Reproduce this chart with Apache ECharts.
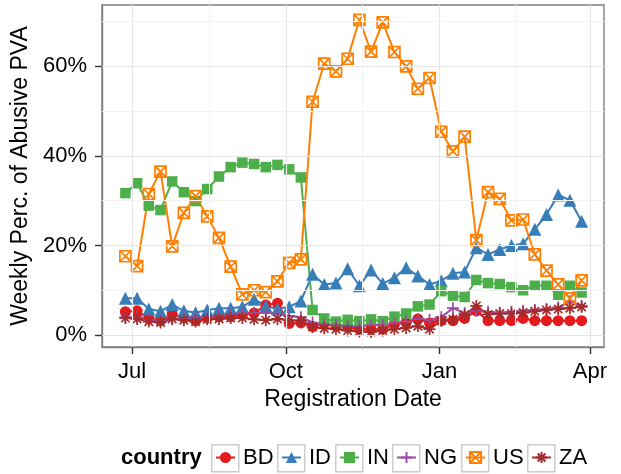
<!DOCTYPE html>
<html><head><meta charset="utf-8">
<script src="https://cdn.jsdelivr.net/npm/echarts@6/dist/echarts.min.js"></script>
<style>html,body{margin:0;padding:0;background:#fff}#c{width:621px;height:474px}</style>
</head><body><div id="c"></div>
<script>
const weeks = ['2013-06-27','2013-07-04','2013-07-11','2013-07-18','2013-07-25','2013-08-01','2013-08-08','2013-08-15','2013-08-22','2013-08-29',
'2013-09-05','2013-09-12','2013-09-19','2013-09-26','2013-10-03','2013-10-10','2013-10-17','2013-10-24','2013-10-31','2013-11-07',
'2013-11-14','2013-11-21','2013-11-28','2013-12-05','2013-12-12','2013-12-19','2013-12-26','2014-01-02','2014-01-09','2014-01-16',
'2014-01-23','2014-01-30','2014-02-06','2014-02-13','2014-02-20','2014-02-27','2014-03-06','2014-03-13','2014-03-20','2014-03-27'];
const BD = [5.2,5.4,3.7,3.2,4.7,3.9,3.2,3.8,4.1,4.1,4.5,4.9,6.7,7.1,2.6,2.7,1.9,2.6,2.0,1.8,1.3,1.3,1.3,2.4,2.8,3.6,2.7,3.2,3.2,3.7,5.4,3.2,3.2,3.2,3.7,3.2,3.2,3.2,3.2,3.2];
const ID = [8.2,8.2,5.8,5.3,6.8,5.4,5.0,5.6,6.0,6.0,6.3,8.0,6.5,5.8,6.3,7.6,13.6,11.3,11.6,14.8,11.0,14.5,11.5,12.8,15.0,13.2,11.3,12.1,13.8,14.1,19.5,18.0,19.1,20.0,20.4,23.6,26.9,31.3,30.1,25.4];
const IN = [31.7,33.9,28.9,27.9,34.3,31.9,29.9,32.6,35.4,37.5,38.5,38.2,37.5,38.0,37.0,35.2,5.6,3.7,3.0,3.4,3.1,3.5,3.1,4.1,4.8,6.4,6.8,9.8,8.8,8.5,12.3,11.6,11.4,10.7,10.0,11.0,11.0,9.0,11.0,9.5];
const NG = [4.0,4.0,3.4,3.3,3.5,3.8,4.0,4.0,4.3,4.6,4.9,4.9,5.0,4.8,4.3,4.0,2.8,2.3,2.2,2.0,2.0,2.2,2.3,2.6,3.0,3.6,3.4,4.0,6.0,4.9,5.4,5.2,5.0,5.2,5.4,5.6,5.8,6.2,7.5,6.5];
const US = [17.6,15.4,31.5,36.5,19.8,27.3,31.0,26.5,21.7,15.3,9.1,10.0,9.6,12.0,16.1,16.9,52.1,60.6,58.9,61.7,70.4,63.3,69.8,63.2,60.0,55.0,57.4,45.4,41.0,44.3,21.2,31.9,30.4,25.6,25.8,18.0,14.4,11.3,8.2,12.2];
const ZA = [3.8,3.6,3.0,2.8,3.6,3.3,3.0,3.5,3.6,3.8,3.8,3.5,3.3,3.6,3.3,3.2,1.8,1.5,1.3,1.0,0.8,0.7,1.0,1.3,1.6,2.0,1.3,3.2,3.5,4.5,6.5,4.6,4.8,4.8,5.0,5.3,5.6,5.8,6.0,6.3];
const countries = ['BD','ID','IN','NG','US','ZA'];
const seriesValues = [BD, ID, IN, NG, US, ZA];
const xTickDates = ['2013-07-01','2013-10-01','2014-01-01','2014-04-01'];
const xTickLabels = ['Jul','Oct','Jan','Apr'];
const yTicks = [0,20,40,60];
const yMinor = [10,30,50,70];

const colors = ['#E41A1C','#377EB8','#4DAF4A','#984EA3','#FF7F00','#A52A2A'];
const symbols = ['circle','triangle','rect',
  'path://M5,0L5,10M0,5L10,5',
  'path://M0,0L10,0L10,10L0,10ZM0,0L10,10M10,0L0,10',
  'path://M5,0L5,10M0,5L10,5M1.5,1.5L8.5,8.5M8.5,1.5L1.5,8.5'];
const symSizes = [11,13,10.5,12,11,12];
const stroked = [false,false,false,true,true,true];

function ts(s){const p=s.split('-').map(Number);return Date.UTC(p[0],p[1]-1,p[2]);}
const DAY = 86400000;
const xMajor = xTickDates.map(ts);
const xMinorLines = [];
for (let i=0;i<xMajor.length-1;i++) xMinorLines.push((xMajor[i]+xMajor[i+1])/2);

const chart = echarts.init(document.getElementById('c'), null, {renderer:'canvas'});
const FONT = 'Liberation Sans';

const minorStyle = {color:'#F3F3F3', width:1, type:'solid'};
const majorStyle = {color:'#E6E6E6', width:1.2, type:'solid'};
const gridLines = [];
xMinorLines.forEach(v=>gridLines.push({xAxis:v, lineStyle:minorStyle}));
yMinor.forEach(v=>gridLines.push({yAxis:v, lineStyle:minorStyle}));
xMajor.forEach(v=>gridLines.push({xAxis:v, lineStyle:majorStyle}));
yTicks.forEach(v=>gridLines.push({yAxis:v, lineStyle:majorStyle}));

const series = [{
  type:'line', name:'_grid', data:[], silent:true, z:1,
  markLine:{silent:true, symbol:'none', animation:false, label:{show:false},
    lineStyle:{type:'solid'}, emphasis:{disabled:true}, data:gridLines}
}];
countries.forEach((c,k)=>{
  series.push({
    type:'line', name:c, z:2,
    data: weeks.map((w,i)=>[ts(w), seriesValues[k][i]]),
    symbol: symbols[k], symbolSize: symSizes[k], showAllSymbol:true,
    lineStyle:{color:colors[k], width:2},
    itemStyle: stroked[k] ? {color:'rgba(0,0,0,0)', borderColor:colors[k], borderWidth:1.7}
                          : {color:colors[k], borderWidth:0},
    emphasis:{disabled:true}
  });
});

const legendBoxLeft = [211,277,335,392,461,527];
const legends = countries.map((c,k)=>({
  data:[c], left: legendBoxLeft[k]+4, top: 446.5, padding:0,
  itemWidth:19, itemHeight:14, selectedMode:false,
  textStyle:{fontFamily:FONT, fontSize:22, color:'#000', lineHeight:22, padding:[0,0,0,3]}
}));

const axisLineStyle = {color:'#7F7F7F', width:1.4};
chart.setOption({
  animation:false,
  backgroundColor:'#fff',
  title:{text:'country', left:121, top:446.5, padding:0,
    textStyle:{fontFamily:FONT, fontSize:22, fontWeight:'bold', color:'#000', lineHeight:22}},
  grid:{left:102, right:17, top:5, bottom:127, show:true, borderColor:'#7F7F7F', borderWidth:1.4, backgroundColor:'transparent'},
  legend: legends,
  graphic: legendBoxLeft.map(x=>({type:'rect', left:x, top:444, z:0, shape:{width:27,height:27},
    style:{fill:'#fff', stroke:'#CCCCCC', lineWidth:1.5}})),
  xAxis:{type:'value', min: ts('2013-06-13'), max: ts('2014-04-09')+0.4*DAY,
    name:'Registration Date', nameLocation:'middle', nameGap:38,
    nameTextStyle:{fontFamily:FONT, fontSize:23, color:'#000'},
    axisLine:{show:true, onZero:false, lineStyle:axisLineStyle}, splitLine:{show:false},
    axisTick:{show:true, length:7, lineStyle:{color:'#333', width:1.4}, customValues:xMajor},
    axisLabel:{customValues:xMajor, margin:14, fontFamily:FONT, fontSize:22, color:'#000',
      formatter:(v)=>{const i=xMajor.indexOf(v);return i>=0?xTickLabels[i]:'';}}
  },
  yAxis:{type:'value', min:-2.67, max:73.7,
    name:'Weekly Perc. of Abusive PVA', nameLocation:'middle', nameGap:64,
    nameTextStyle:{fontFamily:FONT, fontSize:23, color:'#000'},
    axisLine:{show:true, onZero:false, lineStyle:axisLineStyle}, splitLine:{show:false},
    axisTick:{show:true, length:7, lineStyle:{color:'#333', width:1.4}, customValues:yTicks},
    axisLabel:{customValues:yTicks, margin:15, fontFamily:FONT, fontSize:22, color:'#000',
      formatter:(v)=>v+'%'}
  },
  series: series
});
</script></body></html>
